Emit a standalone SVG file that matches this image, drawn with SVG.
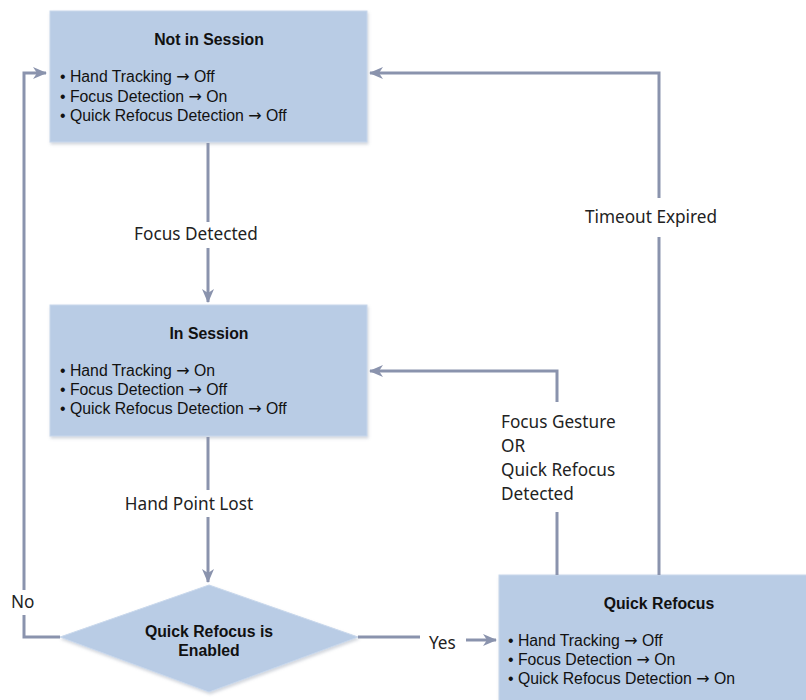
<svg xmlns="http://www.w3.org/2000/svg" width="806" height="700" viewBox="0 0 806 700">
<defs>
<marker id="ah" viewBox="0 0 14 12" refX="13" refY="6" markerWidth="14" markerHeight="12" markerUnits="userSpaceOnUse" orient="auto">
<path d="M0,0 L14,6 L0,12 L4,6 Z" fill="#8a93ad"/>
</marker>
<filter id="sh" x="-5%" y="-5%" width="110%" height="115%">
<feDropShadow dx="1" dy="2" stdDeviation="1.5" flood-color="#7f8aa0" flood-opacity="0.35"/>
</filter>
</defs>
<style>
.box{fill:#b9cce5;stroke:#c9d8ec;stroke-width:1;filter:url(#sh)}
.t{font-family:"Liberation Sans",Arial,sans-serif;font-size:15.8px;font-weight:bold;fill:#111;text-anchor:middle}
.b{font-family:"Liberation Sans",Arial,sans-serif;font-size:15.8px;fill:#111}
.a{font-family:"DejaVu Sans",sans-serif;font-size:16px}
.l{font-family:"Noto Sans","Liberation Sans",sans-serif;font-size:17.2px;fill:#222}
.c{fill:none;stroke:#8a93ad;stroke-width:3}
</style>
<rect width="806" height="700" fill="#fff"/>
<g id="not-in-session">
<rect class="box" x="50" y="11" width="317" height="131"/>
<text class="t" x="209" y="45">Not in Session</text>
<text class="b" x="60" y="82">• Hand Tracking <tspan class="a">→</tspan> Off</text>
<text class="b" x="60" y="102">• Focus Detection <tspan class="a">→</tspan> On</text>
<text class="b" x="60" y="121">• Quick Refocus Detection <tspan class="a">→</tspan> Off</text>
</g>
<g id="in-session">
<rect class="box" x="50" y="305" width="317" height="131"/>
<text class="t" x="209" y="339">In Session</text>
<text class="b" x="60" y="376">• Hand Tracking <tspan class="a">→</tspan> On</text>
<text class="b" x="60" y="395">• Focus Detection <tspan class="a">→</tspan> Off</text>
<text class="b" x="60" y="414">• Quick Refocus Detection <tspan class="a">→</tspan> Off</text>
</g>
<g id="decision">
<polygon class="box" points="209,585 358,637 209,692 60,637"/>
<text class="t" x="209" y="637">Quick Refocus is</text>
<text class="t" x="209" y="656">Enabled</text>
</g>
<g id="quick-refocus">
<rect class="box" x="499" y="575" width="310" height="130"/>
<text class="t" x="659" y="609">Quick Refocus</text>
<text class="b" x="508" y="646">• Hand Tracking <tspan class="a">→</tspan> Off</text>
<text class="b" x="508" y="665">• Focus Detection <tspan class="a">→</tspan> On</text>
<text class="b" x="508" y="684">• Quick Refocus Detection <tspan class="a">→</tspan> On</text>
</g>
<g id="connectors">
<path class="c" d="M208,143 V222"/>
<path class="c" d="M208,248 V302" marker-end="url(#ah)"/>
<path class="c" d="M208,437 V490"/>
<path class="c" d="M208,517 V582" marker-end="url(#ah)"/>
<path class="c" d="M60,637 H24 V615"/>
<path class="c" d="M24,590 V73 H46" marker-end="url(#ah)"/>
<path class="c" d="M358,637 H420"/>
<path class="c" d="M466,640 H496" marker-end="url(#ah)"/>
<path class="c" d="M557,575 V512"/>
<path class="c" d="M557,402 V371 H370" marker-end="url(#ah)"/>
<path class="c" d="M659,575 V237"/>
<path class="c" d="M659,198 V73 H370" marker-end="url(#ah)"/>
</g>
<g id="labels">
<text class="l" x="196" y="240" text-anchor="middle">Focus Detected</text>
<text class="l" x="189" y="510" text-anchor="middle">Hand Point Lost</text>
<text class="l" x="11" y="608">No</text>
<text class="l" x="429" y="649">Yes</text>
<text class="l" x="651" y="223" text-anchor="middle">Timeout Expired</text>
<text class="l" x="501" y="428">Focus Gesture</text>
<text class="l" x="501" y="452">OR</text>
<text class="l" x="501" y="476">Quick Refocus</text>
<text class="l" x="501" y="500">Detected</text>
</g>
</svg>
